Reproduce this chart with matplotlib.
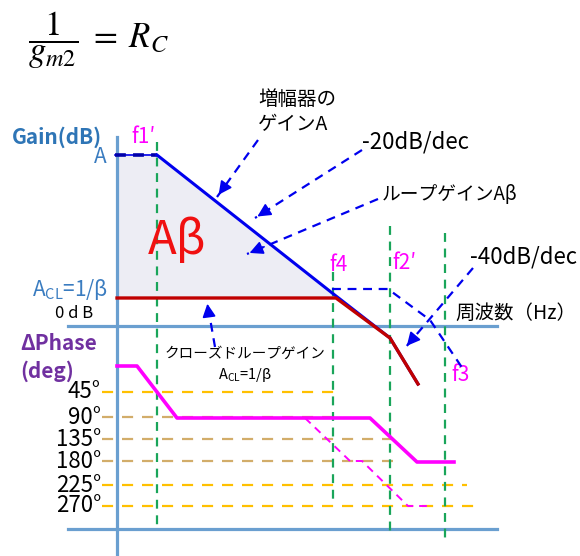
import matplotlib.pyplot as plt

plt.rcParams['font.family'] = ['Noto Sans CJK JP', 'DejaVu Sans']
plt.rcParams['mathtext.fontset'] = 'stix'

# frequency markers (horizontal position on the sketch)
freq_names = ['f1′', 'f4', 'f2′', 'f3']
freq_x = [157, 333, 390, 445]
freq_top = [142, 272, 226, 233]
freq_bot = [525, 500, 533, 540]
freq_lbl_x = [143, 338, 404, 461]
freq_lbl_y = [137, 265, 263, 375]

# gain curves
amp_x = [157, 336, 390, 418]
amp_y = [155, 296, 338, 384]
cl_x = [117, 336, 390, 418]
cl_y = [298, 298, 338, 384]
amp_ext_x = [332, 388, 430, 465]
amp_ext_y = [289, 289, 320, 372]
gain_top = 155
gain_cl = 298

# phase levels
phase_lbl = ['45°', '90°', '135°', '180°', '225°', '270°']
phase_y = [392, 417, 439, 461, 485, 506]
phase_end = [338, 338, 395, 393, 467, 477]
phase_col = ['#ffc000', '#d2ad6a', '#d2ad6a', '#d2ad6a', '#ffc000', '#ffc000']

phase_x = [117, 137, 177, 370, 417, 454]
phase_line_y = [366, 366, 418, 418, 462, 462]
phase2_x = [305, 350, 362, 408, 430]
phase2_y = [418, 461, 461, 506, 506]

fig = plt.figure(figsize=(5.8, 5.56), dpi=100)
ax = fig.add_axes([0, 0, 1, 1])
ax.set_xlim(0, 580)
ax.set_ylim(556, 0)
ax.axis('off')

axis_c = '#6a9fd0'
blue = '#0000ee'
green = '#1aa55a'
mag = '#ff00ff'

# formula
ax.text(28, 40, r'$\dfrac{1}{g_{m2}}\;=\;R_C$', fontsize=25, va='center', ha='left')

# loop gain area
ax.fill([117, amp_x[0], amp_x[1], 117], [gain_top, gain_top, gain_cl, gain_cl],
        color='#ededf4', zorder=1)

# axes
ax.plot([117, 117], [137, 556], color=axis_c, lw=2.3, zorder=2)
ax.plot([68, 497], [326, 326], color=axis_c, lw=2.3, zorder=2)
ax.plot([68, 497], [529, 529], color=axis_c, lw=2.3, zorder=2)

# phase grid lines
for lbl, y, xe, c in zip(phase_lbl, phase_y, phase_end, phase_col):
    ax.plot([102, xe], [y, y], color=c, lw=1.6, ls=(0, (5, 4)), zorder=2)
    ax.text(101, y, lbl, fontsize=16, ha='right', va='center')

# frequency markers
for n, x, t, b, lx, ly in zip(freq_names, freq_x, freq_top, freq_bot, freq_lbl_x, freq_lbl_y):
    ax.plot([x, x], [t, b], color=green, lw=1.6, ls=(0, (4, 3)), zorder=3)
    ax.text(lx, ly, n, color=mag, fontsize=15, ha='center', va='center')

# gain curves
ax.plot([115, amp_x[0]], [gain_top, gain_top], color=blue, lw=1.2, zorder=4)
ax.plot([115, amp_x[0]], [gain_top, gain_top], color='#0000aa', lw=2.6, ls=(0, (3, 2)), zorder=4)
ax.plot(amp_x, amp_y, color=blue, lw=2.2, zorder=4)
ax.plot(cl_x, cl_y, color='#c00000', lw=2.4, zorder=5)
ax.plot(amp_ext_x, amp_ext_y, color=blue, lw=1.6, ls=(0, (4, 3)), zorder=4)

# phase curves
ax.plot(phase_x, phase_line_y, color=mag, lw=2.6, zorder=5)
ax.plot(phase2_x, phase2_y, color=mag, lw=1.4, ls=(0, (4, 3)), zorder=5)

# labels
ax.text(12, 137, 'Gain(dB)', color='#2e75b6', fontsize=15, fontweight='bold', va='center')
ax.text(107, 157, 'A', color='#3a7cc0', fontsize=15, ha='right', va='center')
ax.text(108, 289, r'A$\mathregular{_{CL}}$=1/β', color='#3a7cc0', fontsize=15, ha='right', va='center')
ax.text(93, 313, '0 d B', fontsize=12, ha='right', va='center')
ax.text(20, 343, 'ΔPhase', color='#7030a0', fontsize=15, fontweight='bold', va='center')
ax.text(20, 371, '(deg)', color='#7030a0', fontsize=15, fontweight='bold', va='center')
ax.text(177, 241, 'Aβ', color='#f01010', fontsize=34, ha='center', va='center')
ax.text(455, 313, '周波数（Hz）', fontsize=14, va='center')

# annotations with dashed arrows
notes = [
    ('増幅器の\nゲインA', 258, 112, (258, 140), (217, 197), 'left', 14),
    ('-20dB/dec', 362, 142, (362, 150), (255, 218), 'left', 16),
    ('ループゲインAβ', 382, 195, (378, 199), (247, 254), 'left', 13.5),
    ('-40dB/dec', 470, 257, (473, 268), (405, 348), 'left', 16),
]
for txt, tx, ty, p0, p1, ha, fs in notes:
    ax.text(tx, ty, txt, fontsize=fs, ha=ha, va='center', linespacing=1.25)
    ax.plot([p0[0], p1[0]], [p0[1], p1[1]], color=blue, lw=1.6, ls=(0, (4, 3)), zorder=6)
    dx, dy = p1[0] - p0[0], p1[1] - p0[1]
    ax.annotate('', xy=p1, xytext=(p1[0] - 0.15 * dx, p1[1] - 0.15 * dy),
                arrowprops=dict(arrowstyle='-|>', color=blue, lw=1.2, mutation_scale=20), zorder=6)

ax.text(245, 365, 'クローズドループゲイン\n' + r'A$\mathregular{_{CL}}$=1/β', fontsize=10.5,
        ha='center', va='center', linespacing=1.4)
ax.plot([215, 207], [347, 301], color=blue, lw=1.6, ls=(0, (4, 3)), zorder=6)
ax.annotate('', xy=(207, 301), xytext=(209, 316),
            arrowprops=dict(arrowstyle='-|>', color=blue, lw=1.2, mutation_scale=20), zorder=6)

fig.savefig('out.png', dpi=100)
